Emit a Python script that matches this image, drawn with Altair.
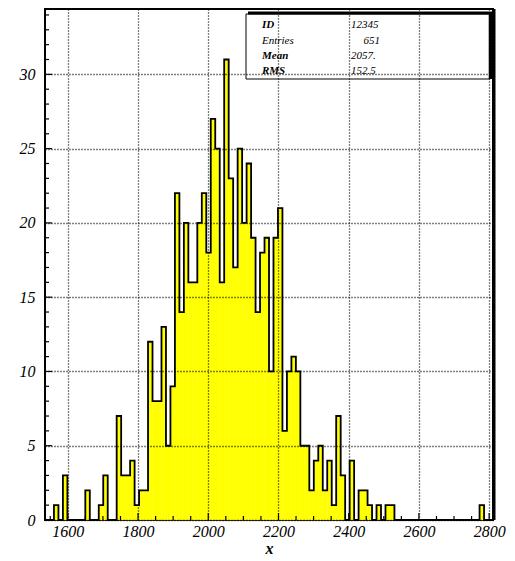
import altair as alt
import pandas as pd

# Histogram of x: 100 bins, counts per bin
x_min = 1535.0
bin_width = 12.76
counts = [
    0, 0, 1, 0, 3, 0, 0, 0, 0, 2,
    0, 0, 1, 3, 0, 0, 7, 3, 3, 4,
    1, 2, 2, 12, 8, 8, 13, 5, 9, 22,
    14, 20, 16, 16, 20, 22, 18, 27, 25, 16,
    31, 23, 17, 25, 20, 24, 19, 14, 18, 19,
    10, 19, 21, 6, 10, 11, 10, 5, 5, 2,
    4, 5, 2, 4, 1, 7, 3, 0, 4, 0,
    2, 2, 1, 0, 1, 0, 1, 1, 0, 0,
    0, 0, 0, 0, 0, 0, 0, 0, 0, 0,
    0, 0, 0, 0, 0, 0, 0, 1, 0, 0,
]
x_ticks = [1600, 1800, 2000, 2200, 2400, 2600, 2800]
y_ticks = [0, 5, 10, 15, 20, 25, 30]
stat_labels = ["ID", "Entries", "Mean", "RMS"]
stat_values = ["12345", "651", "2057.", "152.5"]

x_max = x_min + bin_width * len(counts)
y_max = 34.4
W, H = 448, 511
FONT = "Liberation Serif"

edges = [x_min + i * bin_width for i in range(len(counts) + 1)]
bars_df = pd.DataFrame({"lo": edges[:-1], "hi": edges[1:], "n": counts})
outline_df = pd.DataFrame({
    "x": edges,
    "n": counts + [0],
    "k": list(range(len(edges))),
})

xs = alt.Scale(domain=[x_min, x_max], nice=False, zero=False)
ys = alt.Scale(domain=[0, y_max], nice=False, zero=False)

x_axis = alt.Axis(
    values=x_ticks, format="d", grid=True, gridDash=[1, 2], gridColor="black",
    gridOpacity=1, gridWidth=1.3, ticks=False, domain=False,
    labelFont=FONT, labelFontStyle="italic", labelFontSize=16, labelColor="black",
    labelPadding=3, title="x", titleFont=FONT, titleFontStyle="italic",
    titleFontWeight="bold", titleFontSize=16, titleColor="black", titlePadding=1,
    zindex=1,
)
y_axis = alt.Axis(
    values=y_ticks, grid=True, gridDash=[1, 2], gridColor="black",
    gridOpacity=1, gridWidth=1.3, ticks=False, domain=False,
    labelFont=FONT, labelFontStyle="italic", labelFontSize=16, labelColor="black",
    labelPadding=10, title=None, zindex=1,
)

fill = alt.Chart(bars_df).mark_rect(
    color="#ffff00", stroke="#ffff00", strokeWidth=0.4
).encode(
    x=alt.X("lo:Q", scale=xs, axis=x_axis),
    x2="hi:Q",
    y=alt.Y("n:Q", scale=ys, axis=y_axis),
    y2=alt.datum(0),
)

outline = alt.Chart(outline_df).mark_line(
    interpolate="step-after", color="black", strokeWidth=1.8
).encode(
    x=alt.X("x:Q", scale=xs),
    y=alt.Y("n:Q", scale=ys),
    order="k:Q",
)

# inward tick marks on the bottom and left axes
xt_df = pd.DataFrame({"v": list(range(1550, 2801, 50))})
yt_df = pd.DataFrame({"v": list(range(0, 35))})

x_major = alt.Chart(xt_df).transform_filter("datum.v % 200 == 0").mark_rule(
    color="black", strokeWidth=1.2
).encode(x=alt.X("v:Q", scale=xs), y=alt.value(H), y2=alt.value(H - 7))
x_minor = alt.Chart(xt_df).transform_filter("datum.v % 200 != 0").mark_rule(
    color="black", strokeWidth=1.2
).encode(x=alt.X("v:Q", scale=xs), y=alt.value(H), y2=alt.value(H - 4))
y_major = alt.Chart(yt_df).transform_filter("datum.v % 5 == 0").mark_rule(
    color="black", strokeWidth=1.2
).encode(y=alt.Y("v:Q", scale=ys), x=alt.value(0), x2=alt.value(7))
y_minor = alt.Chart(yt_df).transform_filter("datum.v % 5 != 0").mark_rule(
    color="black", strokeWidth=1.2
).encode(y=alt.Y("v:Q", scale=ys), x=alt.value(0), x2=alt.value(4))

# thicker right edge of the frame
right_edge = alt.Chart(pd.DataFrame({"a": [0]})).mark_rule(
    color="black", strokeWidth=3
).encode(x=alt.value(W + 1), y=alt.value(0), y2=alt.value(H))

# statistics box
box = alt.Chart(pd.DataFrame({"a": [0]})).mark_rect(
    fillOpacity=0, stroke="black", strokeWidth=1
).encode(x=alt.value(201), x2=alt.value(445), y=alt.value(5), y2=alt.value(70))
box_top = alt.Chart(pd.DataFrame({"a": [0]})).mark_rule(
    color="black", strokeWidth=3
).encode(x=alt.value(203), x2=alt.value(447), y=alt.value(4))
box_right = alt.Chart(pd.DataFrame({"a": [0]})).mark_rule(
    color="black", strokeWidth=3.5
).encode(x=alt.value(445.5), y=alt.value(3), y2=alt.value(70))

row_y = [16, 31.5, 46.5, 62]
stat_layers = []
for lab, val, yy in zip(stat_labels, stat_values, row_y):
    bold = lab in ("ID", "RMS", "Mean")
    stat_layers.append(
        alt.Chart(pd.DataFrame({"t": [lab]})).mark_text(
            font=FONT, fontStyle="italic", fontWeight="bold" if bold else "normal",
            fontSize=11, align="left", baseline="middle", color="black",
        ).encode(text="t:N", x=alt.value(217), y=alt.value(yy))
    )
    right = lab == "Entries"
    stat_layers.append(
        alt.Chart(pd.DataFrame({"t": [val]})).mark_text(
            font=FONT, fontStyle="italic", fontSize=11,
            align="right" if right else "left", baseline="middle", color="black",
        ).encode(text="t:N", x=alt.value(335 if right else 306), y=alt.value(yy))
    )

chart = alt.layer(
    fill, outline, x_major, x_minor, y_major, y_minor, right_edge,
    box, box_top, box_right, *stat_layers,
).properties(
    width=W, height=H,
    autosize=alt.AutoSizeParams(type="none"),
    padding={"left": 45, "top": 9, "right": 22, "bottom": 41},
    background="white",
).configure_view(
    stroke="black", strokeWidth=2,
)

chart.save("out.html", embed_options={"renderer": "svg", "actions": False})
